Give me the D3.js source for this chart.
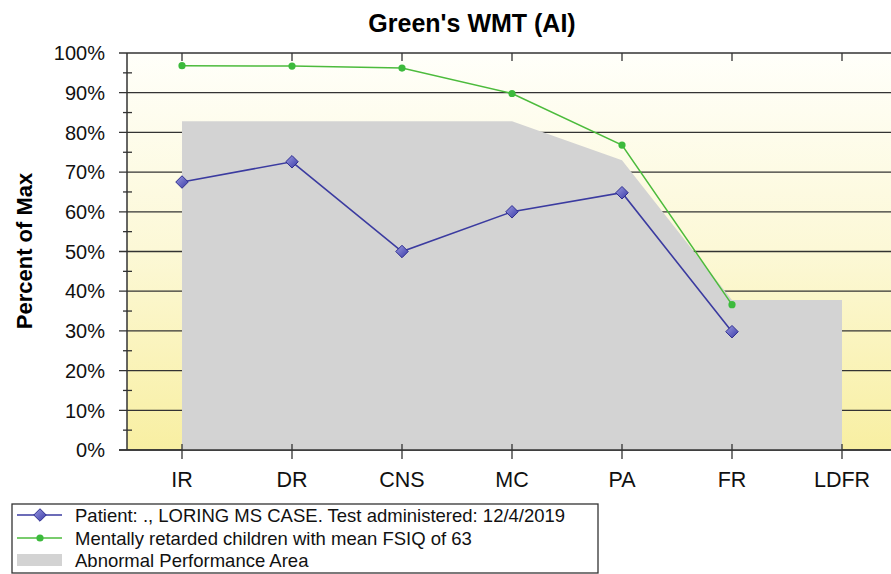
<!DOCTYPE html>
<html>
<head>
<meta charset="utf-8">
<script src="https://cdn.jsdelivr.net/npm/d3@7"></script>
<style>
  body { margin: 0; background: #fff; }
  svg { display: block; font-family: "Liberation Sans", Arial, sans-serif; }
</style>
</head>
<body>
<svg id="chart" width="891" height="574"></svg>
<script>
const categories = ['IR', 'DR', 'CNS', 'MC', 'PA', 'FR', 'LDFR']
const patient = [67.5, 72.6, 50, 60, 64.8, 29.8]
const mrChildren = [96.8, 96.7, 96.2, 89.8, 76.8, 36.6]
const abnormal = [82.8, 82.8, 82.8, 82.8, 73, 37.8, 37.8]
const yTicks = [0, 10, 20, 30, 40, 50, 60, 70, 80, 90, 100]
const yMinor = [5, 15, 25, 35, 45, 55, 65, 75, 85, 95]
const legendItems = [
  'Patient: ., LORING MS CASE. Test administered: 12/4/2019',
  'Mentally retarded children with mean FSIQ of 63',
  'Abnormal Performance Area'
]

const svg = d3.select('#chart')
const plotLeft = 127, plotRight = 897, plotTop = 53, plotBottom = 450

const x = d3.scalePoint().domain(categories).range([plotLeft, plotRight]).padding(0.5)
const y = d3.scaleLinear().domain([0, 100]).range([plotBottom, plotTop])

// background gradient
const defs = svg.append('defs')
const bg = defs.append('linearGradient').attr('id', 'bg').attr('x1', 0).attr('y1', 0).attr('x2', 0).attr('y2', 1)
bg.append('stop').attr('offset', '0%').attr('stop-color', '#fffffa')
bg.append('stop').attr('offset', '50%').attr('stop-color', '#fcf8d6')
bg.append('stop').attr('offset', '100%').attr('stop-color', '#f8efa2')

const dia = defs.append('linearGradient').attr('id', 'dia').attr('x1', 0).attr('y1', 0).attr('x2', 1).attr('y2', 1)
dia.append('stop').attr('offset', '0%').attr('stop-color', '#9a9ae0')
dia.append('stop').attr('offset', '100%').attr('stop-color', '#3a3aa8')

svg.append('rect')
  .attr('x', plotLeft).attr('y', plotTop)
  .attr('width', 891 - plotLeft).attr('height', plotBottom - plotTop)
  .attr('fill', 'url(#bg)')

// gridlines (behind the area)
svg.append('g').selectAll('line').data(yTicks).join('line')
  .attr('x1', plotLeft - 8).attr('x2', 891)
  .attr('y1', d => y(d)).attr('y2', d => y(d))
  .attr('stroke', '#333').attr('stroke-width', 1.3)

// abnormal area
const area = d3.area()
  .x((d, i) => x(categories[i]))
  .y0(y(0))
  .y1(d => y(d))
svg.append('path').datum(abnormal)
  .attr('d', area)
  .attr('fill', '#d3d3d3')

// axes lines
svg.append('line').attr('x1', plotLeft).attr('x2', plotLeft).attr('y1', plotTop).attr('y2', plotBottom)
  .attr('stroke', '#333').attr('stroke-width', 1.5)
svg.append('line').attr('x1', plotLeft - 8).attr('x2', 891).attr('y1', plotBottom).attr('y2', plotBottom)
  .attr('stroke', '#333').attr('stroke-width', 1.5)
svg.append('g').selectAll('line').data(yMinor).join('line')
  .attr('x1', plotLeft - 4).attr('x2', plotLeft + 5)
  .attr('y1', d => y(d)).attr('y2', d => y(d))
  .attr('stroke', '#333').attr('stroke-width', 1.3)

// category ticks, bottom and top
svg.append('g').selectAll('line').data(categories).join('line')
  .attr('x1', d => x(d)).attr('x2', d => x(d))
  .attr('y1', plotBottom - 6).attr('y2', plotBottom + 9)
  .attr('stroke', '#333').attr('stroke-width', 1.3)
svg.append('g').selectAll('line').data(categories).join('line')
  .attr('x1', d => x(d)).attr('x2', d => x(d))
  .attr('y1', plotTop).attr('y2', plotTop + 8)
  .attr('stroke', '#333').attr('stroke-width', 1.3)

// tick labels
svg.append('g').selectAll('text').data(yTicks).join('text')
  .attr('x', 105).attr('y', d => y(d)).attr('dy', '0.36em')
  .attr('text-anchor', 'end').attr('font-size', 20).attr('fill', '#111')
  .text(d => d + '%')
svg.append('g').selectAll('text').data(categories).join('text')
  .attr('x', d => x(d)).attr('y', 487)
  .attr('text-anchor', 'middle').attr('font-size', 21.5).attr('fill', '#111')
  .text(d => d)

// titles
svg.append('text').attr('x', 472).attr('y', 32)
  .attr('text-anchor', 'middle').attr('font-size', 25).attr('font-weight', 'bold')
  .text("Green's WMT (AI)")
svg.append('text')
  .attr('transform', 'translate(32,251) rotate(-90)')
  .attr('text-anchor', 'middle').attr('font-size', 22).attr('font-weight', 'bold')
  .text('Percent of Max')

// series
const line = d3.line().x((d, i) => x(categories[i])).y(d => y(d))
svg.append('path').datum(mrChildren)
  .attr('d', line).attr('fill', 'none')
  .attr('stroke', '#4cbb3c').attr('stroke-width', 1.5)
svg.append('g').selectAll('circle').data(mrChildren).join('circle')
  .attr('cx', (d, i) => x(categories[i])).attr('cy', d => y(d))
  .attr('r', 3.6).attr('fill', '#3cba3c')

svg.append('path').datum(patient)
  .attr('d', line).attr('fill', 'none')
  .attr('stroke', '#3b3ba0').attr('stroke-width', 1.6)
const diamond = d3.symbol().type(d3.symbolDiamond2).size(100)
svg.append('g').selectAll('path').data(patient).join('path')
  .attr('d', diamond)
  .attr('transform', (d, i) => `translate(${x(categories[i])},${y(d)})`)
  .attr('fill', 'url(#dia)').attr('stroke', '#2e2e90').attr('stroke-width', 1)

// legend
const lg = svg.append('g')
lg.append('rect').attr('x', 12).attr('y', 504).attr('width', 586).attr('height', 69)
  .attr('fill', '#fff').attr('stroke', '#333').attr('stroke-width', 1.3)
const rowY = [515, 538, 560]
lg.selectAll('text').data(legendItems).join('text')
  .attr('x', 75).attr('y', (d, i) => rowY[i]).attr('dy', '0.36em')
  .attr('font-size', 18.5).attr('fill', '#111')
  .text(d => d)
lg.append('line').attr('x1', 17).attr('x2', 62).attr('y1', rowY[0]).attr('y2', rowY[0])
  .attr('stroke', '#3b3ba0').attr('stroke-width', 1.6)
lg.append('path').attr('d', diamond).attr('transform', `translate(40,${rowY[0]})`)
  .attr('fill', 'url(#dia)').attr('stroke', '#2e2e90')
lg.append('line').attr('x1', 17).attr('x2', 62).attr('y1', rowY[1]).attr('y2', rowY[1])
  .attr('stroke', '#4cbb3c').attr('stroke-width', 1.5)
lg.append('circle').attr('cx', 40).attr('cy', rowY[1]).attr('r', 3.6).attr('fill', '#3cba3c')
lg.append('rect').attr('x', 17).attr('y', rowY[2] - 6).attr('width', 45).attr('height', 12)
  .attr('fill', '#d3d3d3')
</script>
</body>
</html>
